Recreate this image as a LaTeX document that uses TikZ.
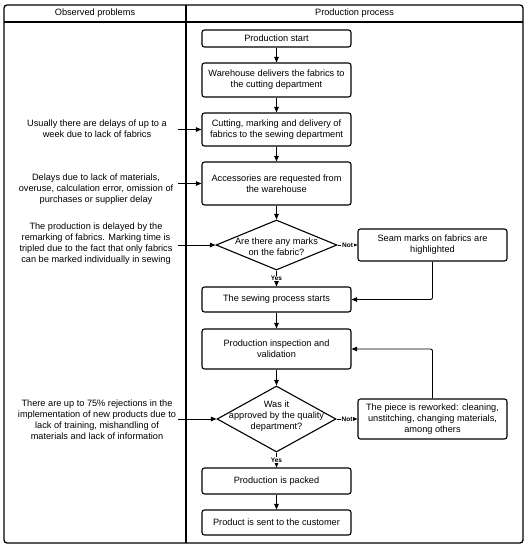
\documentclass[tikz,border=0pt]{standalone}
\usepackage{fontspec}
\setmainfont{Liberation Sans}
\usetikzlibrary{arrows.meta,shapes.geometric}
\begin{document}
\begin{tikzpicture}[x=1pt,y=-1pt,
  txt/.style={font=\fontsize{9.2}{10.9}\selectfont, align=center, inner sep=0pt},
  box/.style={txt, draw, rounded corners=2.5pt, line width=1.1pt, minimum width=149pt},
  dia/.style={draw, diamond, line width=1.1pt, inner sep=0pt},
  arr/.style={line width=0.9pt, -{Triangle[length=5.5pt,width=4.5pt]}},
  lbl/.style={font=\fontsize{6.5}{7}\selectfont\bfseries, fill=white, inner sep=0.6pt}
]
\useasboundingbox (0,0) rectangle (531,550);
% frame
\draw[line width=1.3pt, rounded corners=3pt] (4,5) rectangle (523,543);
\draw[line width=1.1pt] (4,22) -- (523,22);
\draw[line width=1.1pt] (186,5) -- (186,543);
\node[txt] (h1) at (95,13.5) {Observed problems};
\node[txt] (h2) at (354.5,13.5) {Production process};

% process
\node[box, minimum height=17pt] (start) at (276.5,38.5) {Production start};
\node[box, minimum height=34pt] (ware) at (276.5,80) {Warehouse delivers the fabrics to\\the cutting department};
\node[box, minimum height=33pt] (cut) at (276.5,129.5) {Cutting, marking and delivery of\\fabrics to the sewing department};
\node[box, minimum height=43pt] (acc) at (276.5,183.5) {Accessories are requested from\\the warehouse};
\node[dia, minimum width=121pt, minimum height=50pt] (d1) at (276.5,245) {};
\node[txt] (d1t) at (276.5,246.5) {Are there any marks\\on the fabric?};
\node[box, minimum height=32pt] (seam) at (432.5,245) {Seam marks on fabrics are\\highlighted};
\node[box, minimum height=25pt] (sew) at (276.5,299.5) {The sewing process starts};
\node[box, minimum height=40pt] (insp) at (276.5,349) {Production inspection and\\validation};
\node[dia, minimum width=119pt, minimum height=66pt] (d2) at (276.5,419) {};
\node[txt] (d2t) at (276.5,416.5) {Was it\\approved by the quality\\department?};
\node[box, minimum height=40pt] (rework) at (432.5,419) {The piece is reworked: cleaning,\\unstitching, changing materials,\\among others};
\node[box, minimum height=26pt] (pack) at (276.5,481) {Production is packed};
\node[box, minimum height=25pt] (sent) at (276.5,522.5) {Product is sent to the customer};

% problems
\node[txt] (p1) at (97,129) {Usually there are delays of up to a\\week due to lack of fabrics};
\node[txt] (p2) at (96,189) {Delays due to lack of materials,\\overuse, calculation error, omission of\\purchases or supplier delay};
\node[txt] (p3) at (96,243.5) {The production is delayed by the\\remarking of fabrics. Marking time is\\tripled due to the fact that only fabrics\\can be marked individually in sewing};
\node[txt] (p4) at (97,420) {There are up to 75\% rejections in the\\implementation of new products due to\\lack of training, mishandling of\\materials and lack of information};
\coordinate (a1) at (178,129.5);
\coordinate (a2) at (178,183.5);
\coordinate (a3) at (178,245);
\coordinate (a4) at (178,419);

% connectors
\draw[arr] (start) -- (ware);
\draw[arr] (ware) -- (cut);
\draw[arr] (cut) -- (acc);
\draw[arr] (acc) -- (d1.north);
\draw[arr] (d1.east) -- node[lbl] {Not} (seam.west);
\draw[arr] (d1.south) -- node[lbl] {Yes} (sew.north);
\draw[arr, rounded corners=2pt] (seam.south) |- (sew.east);
\draw[arr] (sew) -- (insp);
\draw[arr] (insp) -- (d2.north);
\draw[arr] (d2.east) -- node[lbl] {Not} (rework.west);
\draw[arr, rounded corners=2pt] (rework.north) |- (insp.east);
\draw[arr] (d2.south) -- node[lbl] {Yes} (pack.north);
\draw[arr] (pack) -- (sent);
\draw[arr] (a1) -- (cut.west);
\draw[arr] (a2) -- (acc.west);
\draw[arr] (a3) -- (d1.west);
\draw[arr] (a4) -- (d2.west);
\end{tikzpicture}
\end{document}
